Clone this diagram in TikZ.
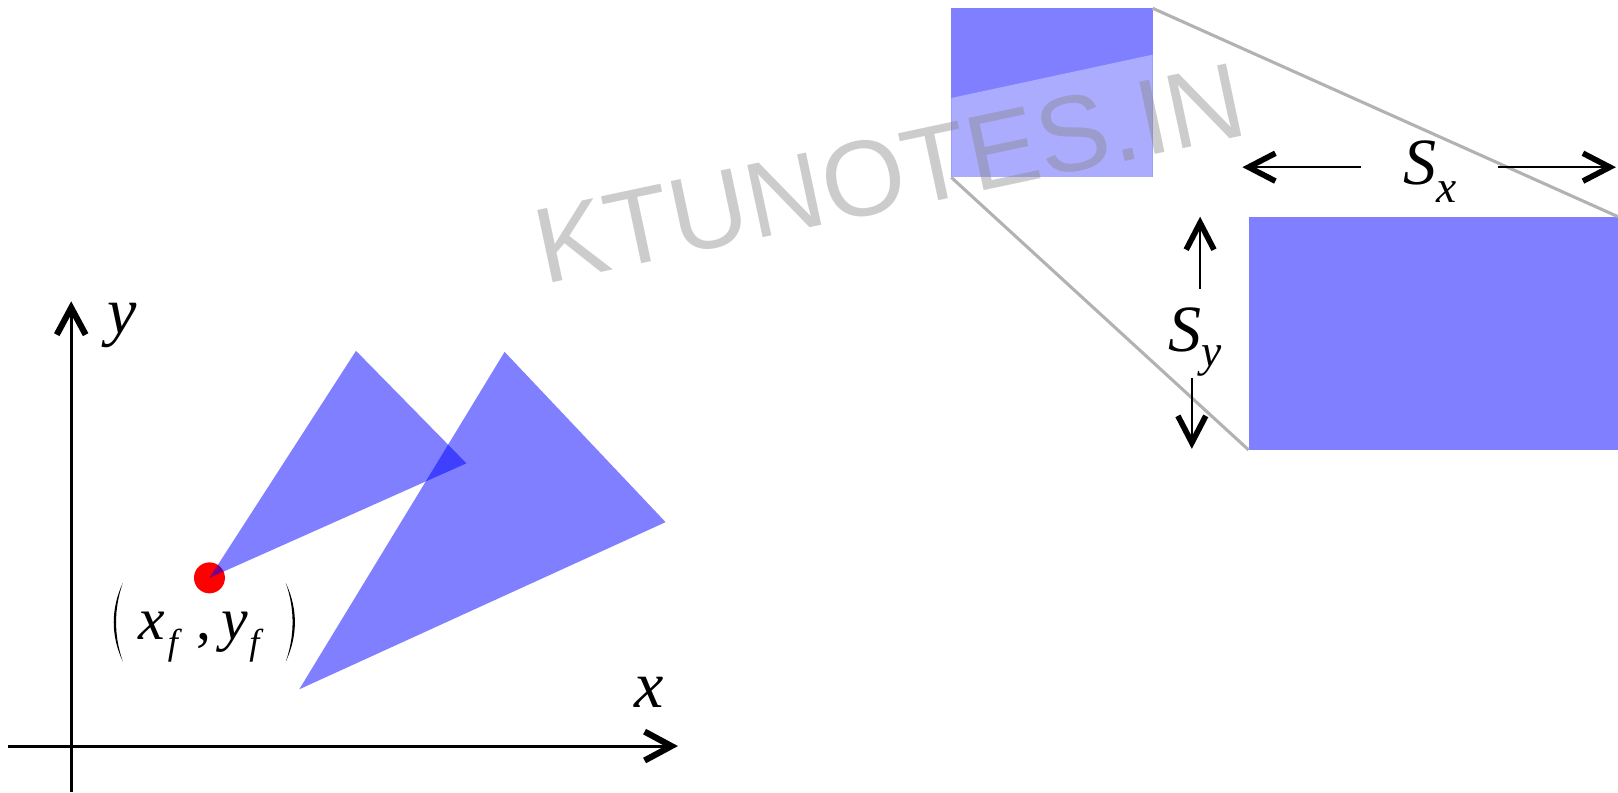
\documentclass[tikz,border=0pt]{standalone}
\usepackage{fontspec}
\setmainfont{Liberation Serif}
\newfontfamily\wmfont{Liberation Sans}
\usetikzlibrary{arrows.meta}
\newcommand\mainsz{\fontsize{64bp}{64bp}\selectfont}
\newcommand\labsz{\fontsize{58bp}{58bp}\selectfont}
\newcommand\subsz{\fontsize{44bp}{44bp}\selectfont}
\newcommand\fsz{\fontsize{35bp}{35bp}\selectfont}
\newcommand\lsub[2][-17bp]{\raisebox{#1}{\subsz\textit{#2}}}
\newcommand\fsub{\raisebox{-14bp}{\fsz\textit{f}}}
\begin{document}
\begin{tikzpicture}[x=1bp,y=-1bp,
  every node/.style={inner sep=0pt,outer sep=0pt},
  shape50/.style={fill=blue,fill opacity=0.5},
  axisline/.style={line width=3bp,-{Straight Barb[length=26bp,width=28bp,line width=6bp 0]}},
  dimline/.style={line width=2.5bp,-{Straight Barb[length=26bp,width=27bp,line width=5.5bp 0]}},
  guide/.style={draw=black!30,line width=3bp},
  lbl/.style={font=\mainsz,anchor=base west},
  paren/.style={fill=black},
]
\useasboundingbox (0,0) rectangle (1568,768);

% axes
\coordinate (xs) at (8,723);
\coordinate (xe) at (657,723);
\coordinate (ys) at (69,768);
\coordinate (ye) at (69,292);
\draw[axisline] (xs) -- (xe);
\draw[axisline] (ys) -- (ye);

% fixed point and triangles
\node[circle, fill=red, minimum size=30bp] (fp) at (203,560) {};
\coordinate (a1) at (345,340);
\coordinate (a2) at (452,449);
\coordinate (b1) at (489,341);
\coordinate (b2) at (645,506);
\coordinate (b3) at (290,668);
\fill[shape50] (a1) -- (a2) -- (fp.center) -- cycle;
\fill[shape50] (b1) -- (b2) -- (b3) -- cycle;

% labels left
\node[lbl] (yl) at (104,323) {\textit{y}};
\node[lbl] (xl) at (615,686) {\textit{x}};
\fill[paren] (119,565) .. controls (107.3,590) and (107.3,616) .. (119,641)
             .. controls (110.3,616) and (110.3,590) .. cycle;
\fill[paren] (277,565) .. controls (288.7,590) and (288.7,616) .. (277,641)
             .. controls (285.7,616) and (285.7,590) .. cycle;
\node[font=\labsz, anchor=base west] (fl) at (134,620)
  {\textit{x}\hspace{3bp}\fsub\hspace{14bp},\hspace{10bp}\textit{y}\hspace{1bp}\fsub};

% right part
\node[shape50, minimum width=195bp, minimum height=164bp, anchor=north west] (sr) at (922,8) {};
\fill[white, fill opacity=0.36] (922,95) -- (1117,53) -- (1117,172) -- (922,172) -- cycle;
\node[shape50, minimum width=358bp, minimum height=226bp, anchor=north west] (br) at (1210,210) {};
\draw[guide] (sr.north east) -- (br.north east);
\draw[guide] (sr.south west) -- (br.south west);

% dimension arrows
\coordinate (sxa) at (1319,162);
\coordinate (sxb) at (1204,162);
\coordinate (sxc) at (1452,162);
\coordinate (sxd) at (1566,162);
\coordinate (sya) at (1163,280);
\coordinate (syb) at (1163,210);
\coordinate (syc) at (1155,366);
\coordinate (syd) at (1155,435);
\draw[dimline] (sxa) -- (sxb);
\draw[dimline] (sxc) -- (sxd);
\draw[dimline] (sya) -- (syb);
\draw[dimline] (syc) -- (syd);
\node[lbl] (sx) at (1360,179) {\textit{S}\lsub{x}};
\node[lbl] (sy) at (1132,341) {\textit{S}\lsub[-14bp]{y}};

% watermark
\node[font=\wmfont\fontsize{104bp}{104bp}\selectfont, text=gray, text opacity=0.4, rotate=12] (wm) at (862,168) {KTUNOTES.IN};
\end{tikzpicture}
\end{document}
